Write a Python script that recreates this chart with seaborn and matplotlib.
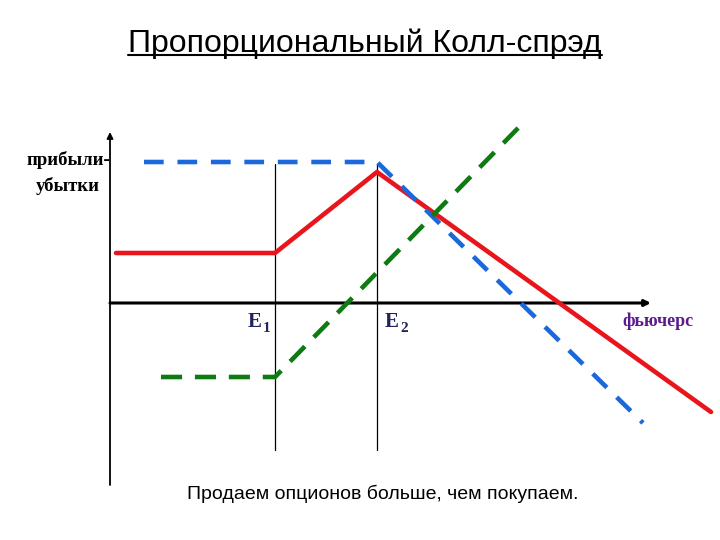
import pandas as pd
import seaborn as sns
import matplotlib.pyplot as plt

sns.set_style('white')
plt.rcParams['font.family'] = ['Liberation Sans', 'DejaVu Sans']
plt.rcParams['text.color'] = 'black'

# Payoff lines (price on x, profit on y)
red_x = [6, 165, 267, 601]
red_y = [50, 50, 131, -109]
blue_x = [34, 267, 533]
blue_y = [141, 141, -120]
green_x = [51, 165, 414]
green_y = [-74, -74, 181]

strikes = [165, 267]
strike_names = ['E', 'E']
strike_subs = ['1', '2']

title = 'Пропорциональный Колл-спрэд'
y_label = ['прибыли-', 'убытки']
x_label = 'фьючерс'
note = 'Продаем опционов больше, чем покупаем.'

df = pd.concat([
    pd.DataFrame({'x': red_x, 'y': red_y, 'line': 'red'}),
    pd.DataFrame({'x': blue_x, 'y': blue_y, 'line': 'blue'}),
    pd.DataFrame({'x': green_x, 'y': green_y, 'line': 'green'}),
])
colors = {'red': '#e8161c', 'blue': '#1b68dc', 'green': '#0d7a12'}
dashes = {'red': '', 'blue': (4.3, 3.0), 'green': (4.6, 2.8)}

fig = plt.figure(figsize=(7.2, 5.4), dpi=100)
ax = fig.add_axes([0, 0, 1, 1])
ax.set_xlim(-110, 610)
ax.set_ylim(-237, 303)
ax.axis('off')

# strike verticals
for s in strikes:
    ax.plot([s, s], [139, -147], color='black', lw=0.9, zorder=1)

# axes with arrows
ax.annotate('', xy=(0, 171), xytext=(0, -182),
            arrowprops=dict(arrowstyle='-|>', color='black', lw=1.3,
                            mutation_scale=9, shrinkA=0, shrinkB=0))
ax.annotate('', xy=(541, 0), xytext=(0, 0),
            arrowprops=dict(arrowstyle='-|>', color='black', lw=2.2,
                            mutation_scale=9, shrinkA=0, shrinkB=0))

sns.lineplot(data=df, x='x', y='y', hue='line', style='line', palette=colors,
             dashes=dashes, sort=False, estimator=None, linewidth=3.3,
             legend=False, ax=ax, zorder=3)

# texts
t = ax.text(255, 251, title, ha='center', va='baseline', fontsize=23)
ax.text(273, -196, note, ha='center', va='baseline', fontsize=14)
ax.text(-42, 143, y_label[0], ha='center', va='center', fontsize=13.5,
        family='Liberation Serif', weight='bold')
ax.text(-42, 117, y_label[1], ha='center', va='center', fontsize=13.5,
        family='Liberation Serif', weight='bold')
ax.text(548, -18, x_label, ha='center', va='center', fontsize=13,
        family='Liberation Serif', weight='bold', color='#5b1a8e')
for s, n, sub, dx in zip(strikes, strike_names, strike_subs, [-20, 15]):
    ax.text(s + dx, -19, n, ha='center', va='center', fontsize=15,
            family='Liberation Serif', weight='bold', color='#23235e')
    ax.text(s + dx + 12, -25, sub, ha='center', va='center', fontsize=11,
            family='Liberation Serif', weight='bold', color='#23235e')

# underline the title
fig.canvas.draw()
bb = t.get_window_extent().transformed(ax.transData.inverted())
ax.plot([bb.x0, bb.x1], [248, 248], color='black', lw=1.5)

fig.savefig('out.png', dpi=100)
